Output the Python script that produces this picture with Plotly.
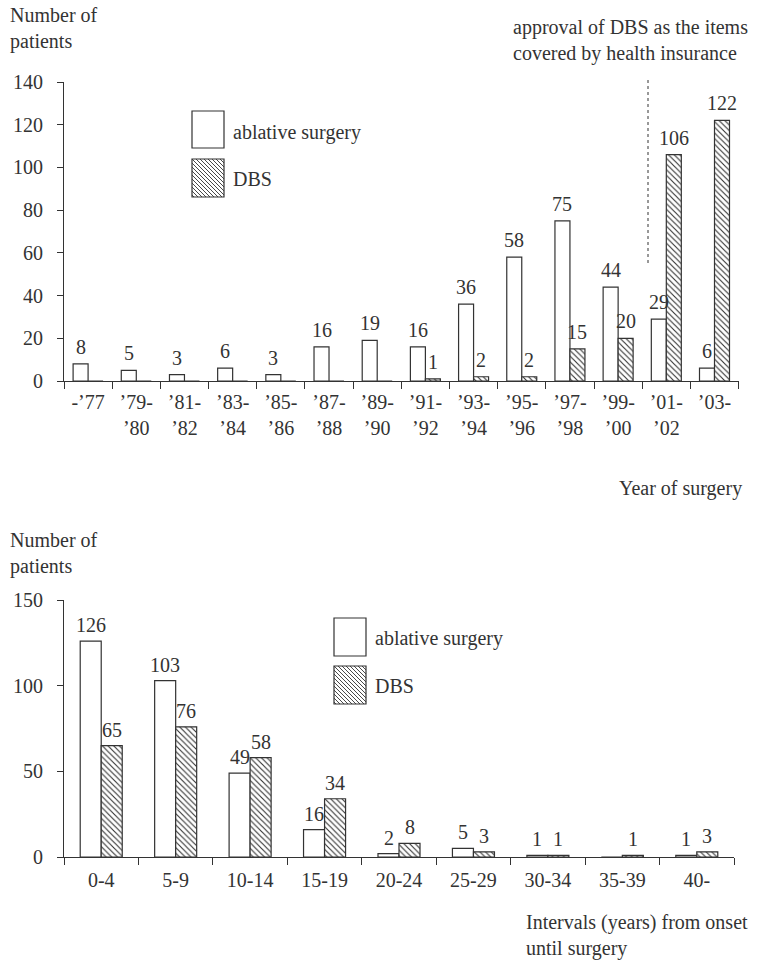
import plotly.graph_objects as go

# ---------------- data ----------------
years = ["-’77", "’79-<br>’80", "’81-<br>’82", "’83-<br>’84", "’85-<br>’86", "’87-<br>’88",
         "’89-<br>’90", "’91-<br>’92", "’93-<br>’94", "’95-<br>’96", "’97-<br>’98",
         "’99-<br>’00", "’01-<br>’02", "’03-"]
ablative_year = [8, 5, 3, 6, 3, 16, 19, 16, 36, 58, 75, 44, 29, 6]
dbs_year = [0, 0, 0, 0, 0, 0, 0, 1, 2, 2, 15, 20, 106, 122]

intervals = ["0-4", "5-9", "10-14", "15-19", "20-24", "25-29", "30-34", "35-39", "40-"]
ablative_int = [126, 103, 49, 16, 2, 5, 1, 0, 1]
dbs_int = [65, 76, 58, 34, 8, 3, 1, 1, 3]

series_names = ["ablative surgery", "DBS"]

# ---------------- style ----------------
W, H = 766, 962
FONT = "Liberation Serif, Times New Roman, serif"
FS = 20
INK = "#333333"


def px(x):
    return x / W


def py(y):
    return 1 - y / H


pattern = dict(shape="\\", size=4, solidity=0.28, fgcolor=INK, bgcolor="white",
               fillmode="replace")

fig = go.Figure()

# top chart bars
wt = 15 / 48.2
fig.add_trace(go.Bar(x=years, y=ablative_year, name=series_names[0], xaxis="x", yaxis="y",
                     width=wt, offset=-wt,
                     marker=dict(color="white", line=dict(color=INK, width=1.2)),
                     showlegend=False, hoverinfo="x+y"))
fig.add_trace(go.Bar(x=years, y=dbs_year, name=series_names[1], xaxis="x", yaxis="y",
                     width=wt, offset=0,
                     marker=dict(color="white", line=dict(color=INK, width=1.2), pattern=pattern),
                     showlegend=False, hoverinfo="x+y"))

# bottom chart bars
wb = 21 / 74.4
fig.add_trace(go.Bar(x=intervals, y=ablative_int, name=series_names[0], xaxis="x2", yaxis="y2",
                     width=wb, offset=-wb,
                     marker=dict(color="white", line=dict(color=INK, width=1.2)),
                     showlegend=False, hoverinfo="x+y"))
fig.add_trace(go.Bar(x=intervals, y=dbs_int, name=series_names[1], xaxis="x2", yaxis="y2",
                     width=wb, offset=0,
                     marker=dict(color="white", line=dict(color=INK, width=1.2), pattern=pattern),
                     showlegend=False, hoverinfo="x+y"))

annotations = []


def add_value_labels(cats, vals, xref, yref, shift, yshift):
    for c, v in zip(cats, vals):
        if v == 0:
            continue
        annotations.append(dict(x=c, y=v, xref=xref, yref=yref, text=str(v), showarrow=False,
                                xanchor="center", yanchor="bottom", xshift=shift, yshift=yshift,
                                font=dict(family=FONT, size=FS, color=INK)))


add_value_labels(years, ablative_year, "x", "y", -7.5, 4)
add_value_labels(years, dbs_year, "x", "y", 7.5, 4)
add_value_labels(intervals, ablative_int, "x2", "y2", -10.5, 3)
add_value_labels(intervals, dbs_int, "x2", "y2", 10.5, 3)


def text(x, y, s, xanchor="left", yanchor="top", align="left"):
    annotations.append(dict(x=px(x), y=py(y), xref="paper", yref="paper", text=s,
                            showarrow=False, xanchor=xanchor, yanchor=yanchor, align=align,
                            font=dict(family=FONT, size=FS, color=INK)))


text(8, 2, "Number of<br>patients")
text(8, 527, "Number of<br>patients")
text(511, 14, "approval of DBS as the items<br>covered by health insurance")
text(744, 488, "Year of surgery", xanchor="right", yanchor="middle", align="right")
text(524, 909, "Intervals (years) from onset<br>until surgery")

shapes = []


def swatch(x0, y0, x1, y1, hatch):
    shapes.append(dict(type="rect", xref="paper", yref="paper", x0=px(x0), x1=px(x1),
                       y0=py(y1), y1=py(y0), line=dict(color=INK, width=1.2),
                       fillcolor="white", layer="above"))
    if hatch:
        parts = []
        step = 4
        c = y0 - x1
        while c <= y1 - x0:
            xa = max(x0, y0 - c)
            xb = min(x1, y1 - c)
            if xb > xa:
                parts.append("M%.5f,%.5f L%.5f,%.5f" % (px(xa), py(xa + c), px(xb), py(xb + c)))
            c += step
        shapes.append(dict(type="path", xref="paper", yref="paper", path=" ".join(parts),
                           line=dict(color=INK, width=0.9), layer="above"))


# legends (top)
swatch(192, 111, 224, 148, False)
swatch(192, 159, 224, 197, True)
text(231, 132, series_names[0], yanchor="middle")
text(231, 179, series_names[1], yanchor="middle")
# legends (bottom)
swatch(334, 618, 366, 656, False)
swatch(334, 666, 366, 704, True)
text(373, 638, series_names[0], yanchor="middle")
text(373, 686, series_names[1], yanchor="middle")

# dotted approval line
shapes.append(dict(type="line", xref="paper", yref="paper", x0=px(648), x1=px(648),
                   y0=py(263), y1=py(79), line=dict(color=INK, width=1, dash="dot")))

axis_common = dict(showline=True, linecolor=INK, linewidth=1.2, ticks="outside",
                   tickcolor=INK, tickwidth=1.2, showgrid=False, zeroline=False,
                   automargin=False,
                   tickfont=dict(family=FONT, size=FS, color=INK), fixedrange=True)

fig.update_layout(
    template="none",
    width=W, height=H,
    margin=dict(l=0, r=0, t=0, b=0, autoexpand=False),
    paper_bgcolor="white", plot_bgcolor="white",
    showlegend=False,
    barmode="overlay",
    font=dict(family=FONT, size=FS, color=INK),
    xaxis=dict(domain=[px(64), px(739)], anchor="y", type="category", tickson="boundaries",
               ticklen=7, tickangle=0, ticklabelstandoff=3, **axis_common),
    yaxis=dict(domain=[py(381), py(82)], anchor="x", range=[0, 140], tickvals=list(range(0, 141, 20)),
               ticklen=6, ticklabelstandoff=10, **axis_common),
    xaxis2=dict(domain=[px(64), px(734)], anchor="y2", type="category", tickson="boundaries",
                ticklen=7, tickangle=0, ticklabelstandoff=5, **axis_common),
    yaxis2=dict(domain=[py(857), py(600)], anchor="x2", range=[0, 150], tickvals=[0, 50, 100, 150],
                ticklen=6, ticklabelstandoff=10, **axis_common),
    annotations=annotations,
    shapes=shapes,
)

fig.write_html("out.html", config={"displayModeBar": False},
               post_script="document.body.style.margin='0';document.body.style.padding='0';")
